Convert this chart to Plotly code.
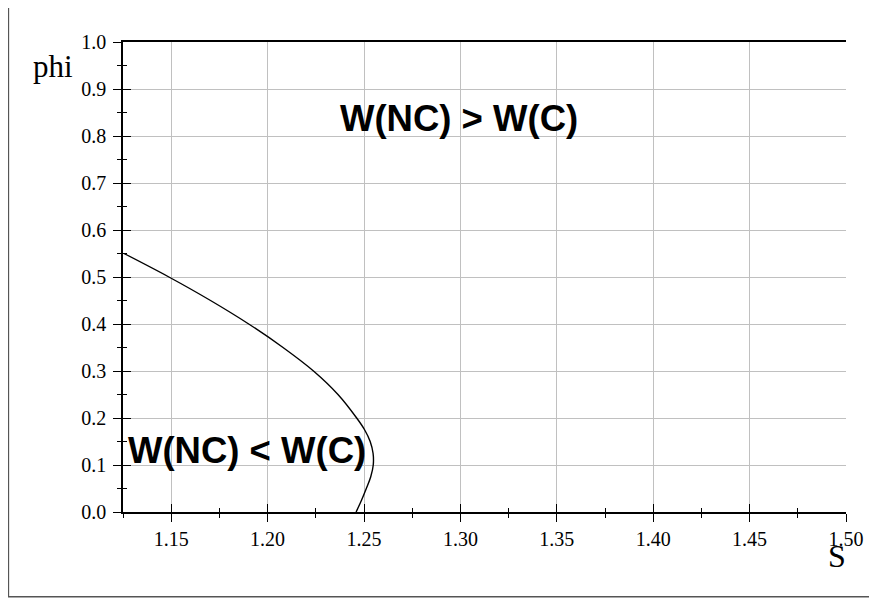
import plotly.graph_objects as go

# Boundary curve W(NC) = W(C): S as a function of phi
phi_vals = [0.0, 0.025, 0.05, 0.075, 0.1, 0.125, 0.15, 0.175, 0.2, 0.25, 0.3, 0.35, 0.4, 0.45, 0.5, 0.55]
s_vals = [1.2459, 1.2487, 1.2512, 1.2535, 1.2548, 1.2547, 1.2532, 1.2503, 1.2462, 1.2365, 1.2238,
          1.2080, 1.1902, 1.1704, 1.1488, 1.1255]

x_range = [1.125, 1.5]
y_range = [0.0, 1.0]

region_labels = ["W(NC) > W(C)", "W(NC) < W(C)"]
region_x = [1.2995, 1.1893]
region_y = [0.837, 0.131]

serif = "Liberation Serif, Times New Roman, serif"
sans = "Liberation Sans, Arial, sans-serif"

fig = go.Figure()
fig.add_trace(go.Scatter(x=s_vals, y=phi_vals, mode="lines",
                         line=dict(color="black", width=1.4, shape="spline", smoothing=1.0),
                         showlegend=False, hoverinfo="skip"))
# invisible trace to activate overlay axes (inner half of crossing ticks)
fig.add_trace(go.Scatter(x=s_vals, y=phi_vals, mode="lines", line=dict(color="rgba(0,0,0,0)", width=0),
                         xaxis="x2", yaxis="y2", showlegend=False, hoverinfo="skip"))

for t, xx, yy in zip(region_labels, region_x, region_y):
    fig.add_annotation(x=xx, y=yy, text="<b>%s</b>" % t, showarrow=False,
                       font=dict(family=sans, size=36.5, color="black"), xanchor="center", yanchor="middle")

fig.add_annotation(xref="paper", yref="paper", x=-0.0963, y=0.947, text="phi", showarrow=False,
                   font=dict(family=serif, size=31, color="black"), xanchor="center", yanchor="middle")
fig.add_annotation(xref="paper", yref="paper", x=0.9871, y=-0.094, text="S", showarrow=False,
                   font=dict(family=serif, size=32, color="black"), xanchor="center", yanchor="middle")

# outer frame
fig.add_shape(type="rect", xref="paper", yref="paper", x0=-0.1585, x1=1.06, y0=-0.1801, y1=1.0808,
              line=dict(color="#555555", width=1.5), fillcolor="rgba(0,0,0,0)", layer="below")

tickfont = dict(family=serif, size=20, color="black")

# page body has an 8px margin: the figure is offset by 8px, so size/margins compensate
fig.update_layout(
    width=869, height=591,
    margin=dict(l=115, r=31, t=34, b=87),
    paper_bgcolor="white", plot_bgcolor="white",
    xaxis=dict(range=x_range, tick0=1.15, dtick=0.05, tickformat=".2f", tickfont=tickfont,
               showgrid=True, gridcolor="#c0c0c0", gridwidth=1, zeroline=False, automargin=False,
               showline=True, linecolor="black", linewidth=1.5, mirror=True,
               ticks="outside", ticklen=8, tickwidth=1.3, tickcolor="black", ticklabelstandoff=0,
               minor=dict(dtick=0.025, tick0=1.15, ticks="outside", ticklen=4, tickwidth=1.2, tickcolor="black",
                          showgrid=False)),
    yaxis=dict(range=y_range, tick0=0, dtick=0.1, tickformat=".1f", tickfont=tickfont,
               showgrid=True, gridcolor="#c0c0c0", gridwidth=1, zeroline=False, automargin=False,
               showline=True, linecolor="black", linewidth=1.5,
               ticks="outside", ticklen=8, tickwidth=1.3, tickcolor="black", ticklabelstandoff=3,
               minor=dict(dtick=0.05, tick0=0, ticks="outside", ticklen=4, tickwidth=1.2, tickcolor="black",
                          showgrid=False)),
    xaxis2=dict(range=x_range, overlaying="x", anchor="y2", side="bottom", tick0=1.15, dtick=0.05,
                showticklabels=False, showgrid=False, zeroline=False, showline=False,
                ticks="inside", ticklen=8, tickwidth=1.3, tickcolor="black",
                minor=dict(dtick=0.025, tick0=1.15, ticks="inside", ticklen=4, tickwidth=1.2, tickcolor="black",
                           showgrid=False)),
    yaxis2=dict(range=y_range, overlaying="y", anchor="x2", side="left", tick0=0, dtick=0.1,
                showticklabels=False, showgrid=False, zeroline=False, showline=False,
                ticks="inside", ticklen=8, tickwidth=1.3, tickcolor="black",
                minor=dict(dtick=0.05, tick0=0, ticks="inside", ticklen=4, tickwidth=1.2, tickcolor="black",
                           showgrid=False)),
)

fig.write_html("out.html")
